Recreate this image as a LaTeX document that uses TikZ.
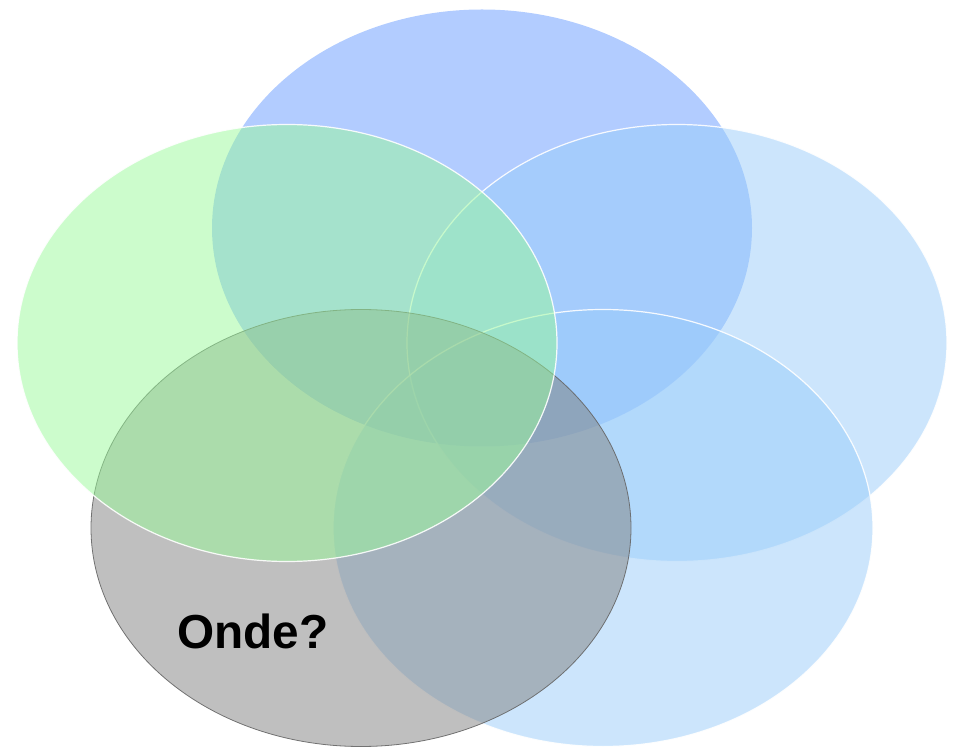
\documentclass[tikz,border=0pt]{standalone}
\usepackage{fontspec}
\setmainfont{Liberation Sans}
\begin{document}
\begin{tikzpicture}[x=0.75pt,y=-0.75pt,
  blob/.style={fill opacity=0.5, draw opacity=0.9, line width=0.9pt},
]
\useasboundingbox (0,0) rectangle (957,748);
\definecolor{cTop}{RGB}{102,153,255}
\definecolor{cRight}{RGB}{153,204,250}
\definecolor{cGray}{RGB}{128,128,128}
\definecolor{cGreen}{RGB}{153,250,153}
\path[blob, fill=cTop] (482,228) ellipse [x radius=270, y radius=218.5];
\path[blob, fill=cRight, draw=white] (677,343) ellipse [x radius=270, y radius=218.5];
\path[blob, fill=cRight, draw=white] (603,528) ellipse [x radius=270, y radius=218.5];
\path[blob, fill=cGray, draw=cGray!80!black, line width=0.6pt] (361,528) ellipse [x radius=270, y radius=218.5];
\path[blob, fill=cGreen, draw=white] (287,343) ellipse [x radius=270, y radius=218.5];
\node (onde) at (253,631) {\fontsize{35.8}{42}\selectfont\bfseries Onde?};
\end{tikzpicture}
\end{document}
